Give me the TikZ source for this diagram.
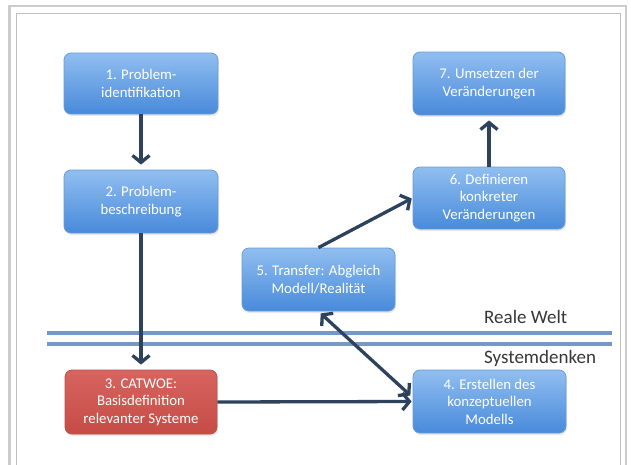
\documentclass[tikz,border=0pt]{standalone}
\usepackage{fontspec}
\setmainfont{Carlito}
\usetikzlibrary{arrows.meta,shadows}
\definecolor{arrowc}{RGB}{45,66,92}
\definecolor{bluetop}{RGB}{145,190,240}
\definecolor{bluebot}{RGB}{72,138,218}
\definecolor{blueedge}{RGB}{105,155,215}
\definecolor{redtop}{RGB}{215,100,95}
\definecolor{redbot}{RGB}{198,76,70}
\definecolor{rededge}{RGB}{190,80,75}
\definecolor{sepline}{RGB}{118,152,198}
\definecolor{labelc}{RGB}{55,55,55}
\tikzset{
  boxbase/.style={rounded corners=7pt, align=center, text=white,
    font=\fontsize{14.8}{17.5}\selectfont, inner sep=2pt, line width=0.8pt,
    drop shadow={opacity=0.18, shadow xshift=1pt, shadow yshift=-2pt}},
  bluebox/.style={boxbase, draw=blueedge, top color=bluetop, bottom color=bluebot},
  redbox/.style={boxbase, draw=rededge, top color=redtop, bottom color=redbot},
  conn/.style={draw=arrowc, line width=3.3pt, -{Straight Barb[length=7pt,width=17pt]}, shorten >=5pt},
  biconn/.style={draw=arrowc, line width=3.3pt, {Straight Barb[length=7pt,width=17pt]}-{Straight Barb[length=7pt,width=17pt]}, shorten >=3pt, shorten <=3pt},
  sep/.style={draw=sepline, line width=4pt},
  lbl/.style={text=labelc, font=\fontsize{19}{22}\selectfont, anchor=west, inner sep=0pt},
  outerframe/.style={draw=black!20, line width=2.6pt},
  innerframe/.style={draw=black!25, line width=1pt}
}
\begin{document}
\begin{tikzpicture}[x=1pt,y=-1pt]
\useasboundingbox[fill=white] (0,0) rectangle (631,464);
% frames
\draw[outerframe] (9.5,470) -- (9.5,6) -- (626,6) -- (626,470);
\draw[innerframe] (16.7,470) -- (16.7,13) -- (620,13) -- (620,470);
% separator lines
\coordinate (s1a) at (47,333);
\coordinate (s1b) at (612,333);
\coordinate (s2a) at (47,344);
\coordinate (s2b) at (612,344);
\draw[sep] (s1a) -- (s1b);
\draw[sep] (s2a) -- (s2b);
% boxes
\node[bluebox, minimum width=154pt, minimum height=61pt] (b1) at (141,83.5) {1. Problem-\\identifikation};
\node[bluebox, minimum width=154pt, minimum height=63pt] (b2) at (141,201.5) {2. Problem-\\beschreibung};
\node[redbox, minimum width=152pt, minimum height=64pt] (b3) at (141,402) {3. CATWOE:\\Basisdefinition\\relevanter Systeme};
\node[bluebox, minimum width=153pt, minimum height=63pt] (b4) at (489.5,401.5) {4. Erstellen des\\konzeptuellen\\Modells};
\node[bluebox, minimum width=153pt, minimum height=63pt] (b5) at (318.5,279.5) {5. Transfer: Abgleich\\Modell/Realität};
\node[bluebox, minimum width=152pt, minimum height=62pt] (b6) at (489,198) {6. Definieren\\konkreter\\Veränderungen};
\node[bluebox, minimum width=152pt, minimum height=63pt] (b7) at (489,83.5) {7. Umsetzen der\\Veränderungen};
% labels
\node[lbl] (rw) at (484,317) {Reale Welt};
\node[lbl] (sd) at (484,358) {Systemdenken};
% connectors
\draw[conn] (b1.south) -- (b2.north);
\draw[conn] (b2.south) -- (b3.north);
\draw[conn, shorten >=1pt] (b3.east) -- (b4.west);
\draw[biconn] (b4.177) -- (b5.south);
\draw[conn, shorten >=1pt] (b5.north) -- (b6.west);
\draw[conn] (b6.north) -- (b7.south);
\end{tikzpicture}
\end{document}
